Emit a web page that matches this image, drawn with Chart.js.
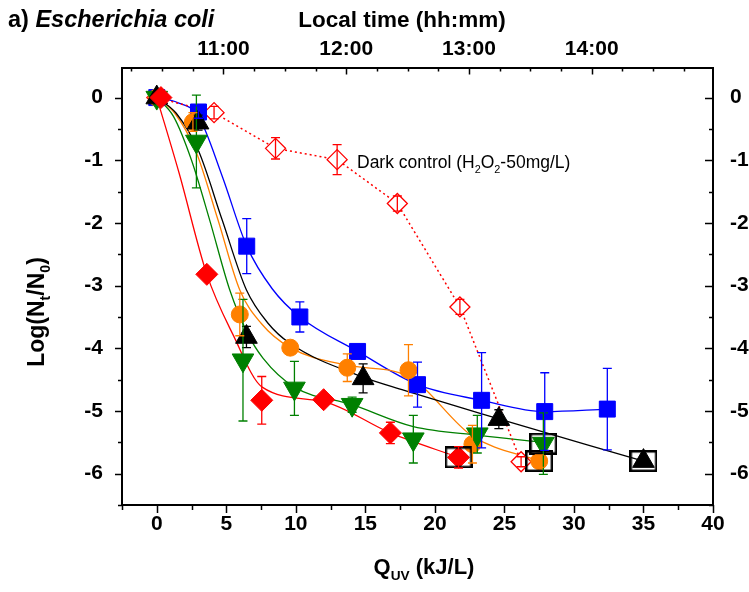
<!DOCTYPE html>
<html>
<head>
<meta charset="utf-8">
<script src="https://cdn.jsdelivr.net/npm/chart.js@4.4.0/dist/chart.umd.min.js"></script>
<style>
    html, body { margin: 0; padding: 0; background: #fff; }
    #wrap { width: 749px; height: 592px; }
</style>
</head>
<body>
<div id="wrap"><canvas id="chart"></canvas></div>
<script>
// Measured points (Q_UV in kJ/L, Log(Nt/N0)) and error bars
var red_x = [0.3, 3.6, 7.55, 12.0, 16.8, 21.7];
var red_y = [0, -2.82, -4.83, -4.82, -5.35, -5.74];
var red_err = [0, 0.08, 0.38, 0.05, 0.17, 0.17];

var blue_x = [0, 3.0, 6.47, 10.29, 14.44, 18.75, 23.36, 27.9, 32.4];
var blue_y = [0, -0.23, -2.37, -3.5, -4.05, -4.58, -4.83, -5.01, -4.97];
var blue_err = [0, 0.1, 0.44, 0.24, 0.1, 0.36, 0.76, 0.62, 0.65];

var black_x = [0, 2.97, 6.45, 14.84, 24.6, 35.0];
var black_y = [0, -0.4, -3.82, -4.48, -5.13, -5.8];
var black_err = [0, 0.12, 0.17, 0.23, 0.15, 0.05];

var orange_x = [0, 2.6, 5.97, 9.6, 13.7, 18.1, 22.7, 27.5];
var orange_y = [0, -0.39, -3.46, -3.99, -4.31, -4.35, -5.53, -5.8];
var orange_err = [0, 0.15, 0.34, 0.1, 0.22, 0.41, 0.3, 0.1];

var green_x = [0, 2.85, 6.2, 9.9, 14.05, 18.45, 23.05, 27.8];
var green_y = [0, -0.7, -4.19, -4.64, -4.9, -5.45, -5.37, -5.52];
var green_err = [0, 0.74, 0.97, 0.43, 0.12, 0.38, 0.3, 0.49];

var dark_x = [0, 4.12, 8.54, 12.97, 17.3, 21.8, 26.2];
var dark_y = [0, -0.24, -0.81, -0.99, -1.69, -3.34, -5.81];
var dark_err = [0, 0.1, 0.17, 0.24, 0.12, 0.12, 0.08];

// points below detection limit (boxed)
var box_x = [21.7, 27.5, 27.8, 35.0];
var box_y = [-5.74, -5.8, -5.52, -5.8];

// Fitted curves
var red_fit_x = [0, 1.6, 3.6, 5.5, 7.58, 12.0, 16.8, 21.7];
var red_fit_y = [0, -1.2, -2.82, -3.79, -4.62, -4.85, -5.35, -5.74];

var green_fit_x = [0, 1.2, 2.5, 3.8, 5.25, 6.5, 7.65, 9.9, 14.05, 18.45, 23.2, 27.8];
var green_fit_y = [0, -0.3, -1.0, -1.95, -3.07, -3.75, -4.16, -4.62, -4.9, -5.25, -5.39, -5.5];

var orange_fit_x = [0, 1.3, 2.8, 4.4, 5.97, 7.5, 9.6, 13.7, 18.1, 22.7, 27.5];
var orange_fit_y = [0, -0.25, -0.85, -1.95, -3.07, -3.6, -3.99, -4.27, -4.45, -5.4, -5.8];

var black_fit_x = [0, 1.4, 3.0, 4.7, 6.45, 8.0, 9.57, 14.84, 17.8, 23.25, 35.0];
var black_fit_y = [0, -0.25, -0.85, -1.95, -3.07, -3.6, -3.92, -4.46, -4.67, -5.04, -5.8];

var blue_fit_x = [0, 1.5, 3.0, 4.7, 6.47, 8.3, 10.29, 14.44, 18.75, 23.36, 27.9, 32.4];
var blue_fit_y = [0, -0.08, -0.3, -1.25, -2.37, -3.05, -3.5, -4.05, -4.58, -4.83, -5.01, -4.97];

// Axis ticks
var x_ticks = [0, 5, 10, 15, 20, 25, 30, 35, 40];
var y_ticks = [-6, -5, -4, -3, -2, -1, 0];
var time_ticks = [11, 12, 13, 14];

var FONT = "'Liberation Sans', Arial, sans-serif";

function pts(xs, ys) {
    return xs.map(function (x, i) { return {x: x, y: ys[i]}; });
}

// open box used as marker for the boxed points
var box_img = document.createElement('canvas');
box_img.width = 28;
box_img.height = 22;
var bctx = box_img.getContext('2d');
bctx.strokeStyle = '#000';
bctx.lineWidth = 2.5;
bctx.strokeRect(1.25, 1.25, 25.5, 19.5);

function marker_set(label, xs, ys, errs, color, style, radius, rot) {
    return {
        label: label,
        data: pts(xs, ys),
        errors: errs,
        showLine: false,
        pointStyle: style,
        pointRotation: rot || 0,
        pointRadius: radius,
        pointHoverRadius: radius,
        pointBackgroundColor: color,
        pointBorderColor: color,
        pointBorderWidth: 1,
        borderColor: color
    };
}

function fit_set(xs, ys, color) {
    return {
        data: pts(xs, ys),
        showLine: true,
        pointRadius: 0,
        borderColor: color,
        borderWidth: 1.3,
        cubicInterpolationMode: 'monotone'
    };
}

// error bars drawn with the chart scales
const error_bars = {
    id: 'error_bars',
    afterDatasetsDraw(chart) {
        const ctx = chart.ctx;
        const xs = chart.scales.x;
        const ys = chart.scales.y;
        ctx.save();
        chart.data.datasets.forEach(function (ds) {
            if (!ds.errors) return;
            ctx.strokeStyle = ds.borderColor;
            ctx.lineWidth = 1.3;
            ds.data.forEach(function (p, i) {
                const e = ds.errors[i];
                if (!e) return;
                const px = xs.getPixelForValue(p.x);
                const top = ys.getPixelForValue(p.y + e);
                const bot = ys.getPixelForValue(p.y - e);
                ctx.beginPath();
                ctx.moveTo(px, top); ctx.lineTo(px, bot);
                ctx.moveTo(px - 4.5, top); ctx.lineTo(px + 4.5, top);
                ctx.moveTo(px - 4.5, bot); ctx.lineTo(px + 4.5, bot);
                ctx.stroke();
            });
        });
        ctx.restore();
    }
};

// draw text made of parts, some of them subscripts
function rich_text(ctx, parts, size, weight, align) {
    var total = 0;
    parts.forEach(function (p) {
        var s = p.sub ? size * 0.62 : size;
        ctx.font = (p.italic ? 'italic ' : '') + weight + ' ' + s + 'px ' + FONT;
        p.w = ctx.measureText(p.t).width;
        total += p.w;
    });
    var x = align === 'center' ? -total / 2 : 0;
    parts.forEach(function (p) {
        var s = p.sub ? size * 0.62 : size;
        ctx.font = (p.italic ? 'italic ' : '') + weight + ' ' + s + 'px ' + FONT;
        ctx.fillText(p.t, x, p.sub ? size * 0.28 : 0);
        x += p.w;
    });
}

const decorations = {
    id: 'decorations',
    afterDraw(chart) {
        const ctx = chart.ctx;
        const s = chart.scales;
        const area = chart.chartArea;
        ctx.save();
        ctx.strokeStyle = '#000';
        ctx.lineWidth = 1.5;
        ctx.beginPath();
        // bottom ticks, outward
        for (let v = -2.5; v <= 40; v += 2.5) {
            const px = Math.round(s.x.getPixelForValue(v)) + 0.5;
            const len = (v % 5 === 0) ? 8 : 5;
            ctx.moveTo(px, area.bottom); ctx.lineTo(px, area.bottom + len);
        }
        // top ticks (every 15 min), inward
        for (let m = 615; m <= 900; m += 15) {
            const h = m / 60;
            if (h < s.x2.min || h > s.x2.max) continue;
            const px = Math.round(s.x2.getPixelForValue(h)) + 0.5;
            const len = (m % 60 === 0) ? 7 : 4;
            ctx.moveTo(px, area.top); ctx.lineTo(px, area.top + len);
        }
        // left ticks outward, right ticks inward
        for (let v = -6.5; v <= 0; v += 0.5) {
            const py = Math.round(s.y.getPixelForValue(v)) + 0.5;
            const major = (v % 1 === 0);
            ctx.moveTo(area.left, py); ctx.lineTo(area.left - (major ? 7 : 4), py);
            ctx.moveTo(area.right, py); ctx.lineTo(area.right - (major ? 8 : 4), py);
        }
        ctx.stroke();

        ctx.fillStyle = '#000';
        ctx.textBaseline = 'alphabetic';

        // panel title
        ctx.save();
        ctx.translate(8, 27);
        rich_text(ctx, [{t: 'a) '}, {t: 'Escherichia coli', italic: true}], 23.5, 'bold', 'left');
        ctx.restore();

        // top axis title
        ctx.save();
        ctx.translate(402, 27);
        rich_text(ctx, [{t: 'Local time (hh:mm)'}], 22.5, 'bold', 'center');
        ctx.restore();

        // bottom axis title
        ctx.save();
        ctx.translate(424, 574);
        rich_text(ctx, [{t: 'Q'}, {t: 'UV', sub: true}, {t: ' (kJ/L)'}], 22, 'bold', 'center');
        ctx.restore();

        // left axis title
        ctx.save();
        ctx.translate(44, 312);
        ctx.rotate(-Math.PI / 2);
        rich_text(ctx, [{t: 'Log(N'}, {t: 't', sub: true}, {t: '/N'}, {t: '0', sub: true}, {t: ')'}], 23, 'bold', 'center');
        ctx.restore();

        // dark control note
        ctx.save();
        ctx.translate(357, 168);
        rich_text(ctx, [{t: 'Dark control (H'}, {t: '2', sub: true}, {t: 'O'}, {t: '2', sub: true}, {t: '-50mg/L)'}], 17.5, 'normal', 'left');
        ctx.restore();

        ctx.restore();
    }
};

var datasets = [
    {
        data: pts(box_x, box_y),
        showLine: false,
        pointStyle: box_img,
        pointRadius: 12,
        pointHoverRadius: 12
    },
    marker_set('red', red_x, red_y, red_err, '#ff0000', 'rectRot', 11),
    marker_set('black', black_x, black_y, black_err, '#000000', 'triangle', 12.5),
    marker_set('green', green_x, green_y, green_err, '#008000', 'triangle', 12.5, 180),
    marker_set('orange', orange_x, orange_y, orange_err, '#ff8000', 'circle', 8.5),
    marker_set('blue', blue_x, blue_y, blue_err, '#0000ff', 'rect', 11.3),
    {
        label: 'dark',
        data: pts(dark_x, dark_y),
        errors: dark_err,
        showLine: true,
        tension: 0,
        borderColor: '#ff0000',
        borderWidth: 1.5,
        borderDash: [2, 3],
        pointStyle: 'rectRot',
        pointRadius: 10,
        pointHoverRadius: 10,
        pointBackgroundColor: '#ffffff',
        pointBorderColor: '#ff0000',
        pointBorderWidth: 1.3
    },
    fit_set(red_fit_x, red_fit_y, '#ff0000'),
    fit_set(black_fit_x, black_fit_y, '#000000'),
    fit_set(green_fit_x, green_fit_y, '#008000'),
    fit_set(orange_fit_x, orange_fit_y, '#ff8000'),
    fit_set(blue_fit_x, blue_fit_y, '#0000ff')
];

function set_ticks(list) {
    return function (scale) {
        scale.ticks = list.map(function (v) { return {value: v}; });
    };
}

var tick_font = {family: FONT, size: 21, weight: 'bold'};

new Chart(document.getElementById('chart'), {
    type: 'scatter',
    data: {datasets: datasets},
    options: {
        responsive: true,
        maintainAspectRatio: false,
        animation: false,
        events: [],
        layout: {padding: 0},
        plugins: {legend: {display: false}, tooltip: {enabled: false}},
        scales: {
            x: {
                type: 'linear', position: 'bottom', min: -2.5, max: 40,
                afterBuildTicks: set_ticks(x_ticks),
                afterFit: function (sc) { sc.height = 87; },
                grid: {display: false},
                border: {display: true, color: '#000', width: 2},
                ticks: {color: '#000', font: tick_font, padding: -1, maxRotation: 0}
            },
            x2: {
                type: 'linear', position: 'top', min: 10.1735, max: 14.988,
                afterBuildTicks: set_ticks(time_ticks),
                afterFit: function (sc) { sc.height = 67.5; },
                grid: {display: false},
                border: {display: true, color: '#000', width: 2},
                ticks: {color: '#000', font: tick_font, padding: -2, maxRotation: 0,
                        callback: function (v) { return v + ':00'; }}
            },
            y: {
                type: 'linear', position: 'left', min: -6.5, max: 0.48,
                afterBuildTicks: set_ticks(y_ticks),
                afterFit: function (sc) { sc.width = 122; },
                grid: {display: false},
                border: {display: true, color: '#000', width: 2},
                ticks: {color: '#000', font: tick_font, padding: 11}
            },
            y2: {
                type: 'linear', position: 'right', min: -6.5, max: 0.48,
                afterBuildTicks: set_ticks(y_ticks),
                afterFit: function (sc) { sc.width = 36; },
                grid: {display: false},
                border: {display: true, color: '#000', width: 2},
                ticks: {color: '#000', font: tick_font, padding: 9}
            }
        }
    },
    plugins: [error_bars, decorations]
});
</script>
</body>
</html>
